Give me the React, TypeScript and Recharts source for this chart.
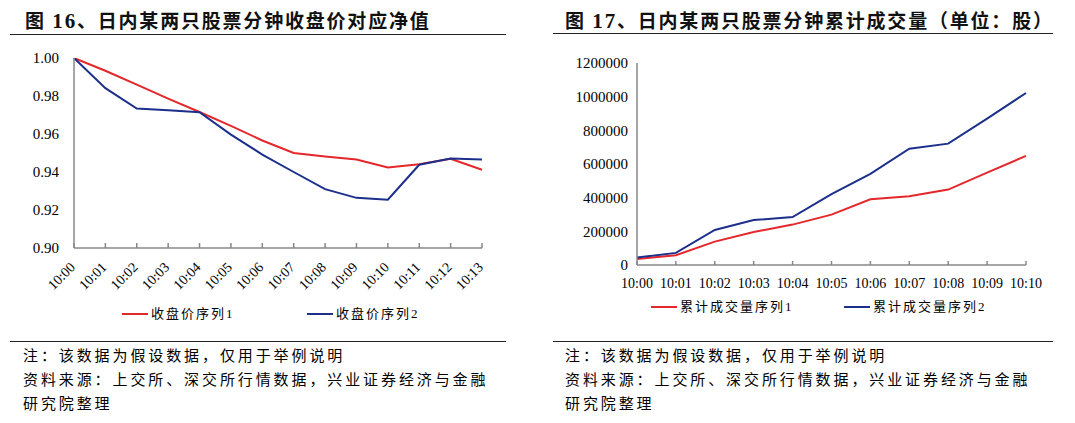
import React from 'react';
import { LineChart, Line, XAxis, YAxis } from 'recharts';

const priceTimes = ['10:00','10:01','10:02','10:03','10:04','10:05','10:06','10:07','10:08','10:09','10:10','10:11','10:12','10:13'];
const priceSeries1 = [1.0, 0.9933, 0.986, 0.9786, 0.9716, 0.9643, 0.9566, 0.950, 0.9482, 0.9466, 0.9424, 0.9441, 0.947, 0.9412];
const priceSeries2 = [1.0, 0.9841, 0.9734, 0.9725, 0.9715, 0.9597, 0.9492, 0.940, 0.931, 0.9264, 0.9254, 0.9438, 0.9471, 0.9466];
const priceTicks = [0.9, 0.92, 0.94, 0.96, 0.98, 1.0];

const volTimes = ['10:00','10:01','10:02','10:03','10:04','10:05','10:06','10:07','10:08','10:09','10:10'];
const volSeries1 = [35000, 58000, 139000, 196000, 240000, 299000, 390000, 409000, 448000, 549000, 648000];
const volSeries2 = [44000, 72000, 208000, 267000, 285000, 421000, 541000, 691000, 721000, 870000, 1022000];
const volTicks = [0, 200000, 400000, 600000, 800000, 1000000, 1200000];

const priceNames = ['收盘价序列1', '收盘价序列2'];
const volNames = ['累计成交量序列1', '累计成交量序列2'];
const titleLeft = { pre: '图 ', num: '16', post: '、日内某两只股票分钟收盘价对应净值' };
const titleRight = { pre: '图 ', num: '17', post: '、日内某两只股票分钟累计成交量（单位：股）' };
const noteLines = ['注：该数据为假设数据，仅用于举例说明', '资料来源：上交所、深交所行情数据，兴业证券经济与金融', '研究院整理'];

const RED = '#E4272B';
const BLUE = '#1C2F8A';
const AXIS = '#888888';
const FONT = "'Liberation Serif', 'Noto Sans CJK SC', serif";

const priceData = priceTimes.map((t, i) => ({ t, s1: priceSeries1[i], s2: priceSeries2[i] }));
const volData = volTimes.map((t, i) => ({ t, s1: volSeries1[i], s2: volSeries2[i] }));

const RotTick = (props: any) => {
  const { x, y, payload } = props;
  return (
    <g>
      <line x1={x} y1={y} x2={x} y2={y - 5} stroke={AXIS} strokeWidth={1.5} />
      <text x={x + 2} y={y + 20} transform={`rotate(-45, ${x + 2}, ${y + 20})`} textAnchor="end" fontSize={14} fontFamily={FONT} fill="#000">{payload.value}</text>
    </g>
  );
};

const FlatTick = (props: any) => {
  const { x, y, payload } = props;
  return (
    <g>
      <line x1={x} y1={y} x2={x} y2={y - 4} stroke={AXIS} strokeWidth={1.5} />
      <text x={x} y={y + 23} textAnchor="middle" fontSize={14} fontFamily={FONT} fill="#000">{payload.value}</text>
    </g>
  );
};

const Title = ({ t, left }: any) => (
  <div style={{ position: 'absolute', left, top: 8, fontFamily: FONT, fontWeight: 'bold', fontSize: 19, letterSpacing: 1.8, color: '#111', whiteSpace: 'nowrap', lineHeight: '26px' }}>
    {t.pre}<span style={{ fontFamily: "'Liberation Serif'", fontSize: 21 }}>{t.num}</span>{t.post}
  </div>
);

const Rule = ({ left, top, width }: any) => (
  <div style={{ position: 'absolute', left, top, width, height: 1.3, background: '#222' }} />
);

const LegendItem = ({ left, top, color, label }: any) => (
  <div style={{ position: 'absolute', left, top, display: 'flex', alignItems: 'center', whiteSpace: 'nowrap' }}>
    <div style={{ width: 26, height: 2, background: color }} />
    <span style={{ marginLeft: 3, fontFamily: FONT, fontSize: 13, letterSpacing: 2, color: '#000', lineHeight: '16px' }}>{label}</span>
  </div>
);

const Notes = ({ left }: any) => (
  <div style={{ position: 'absolute', left, top: 344 }}>
    {noteLines.map((l, i) => (
      <div key={i} style={{ fontFamily: FONT, fontSize: 15, letterSpacing: 2.9, lineHeight: '24px', color: '#000', whiteSpace: 'nowrap' }}>{l}</div>
    ))}
  </div>
);

export default function App() {
  return (
    <div style={{ position: 'absolute', left: 0, top: 0, width: 1075, height: 423, background: '#fff', overflow: 'hidden' }}>
      <Title t={titleLeft} left={25} />
      <Title t={titleRight} left={565} />
      <Rule left={10} top={34} width={496} />
      <Rule left={553} top={33} width={500} />

      <div style={{ position: 'absolute', left: 0, top: 0 }}>
        <LineChart width={540} height={300} data={priceData} margin={{ top: 58, right: 58, left: 24, bottom: 2 }}>
          <XAxis dataKey="t" interval={0} tickSize={0} tickMargin={0} tickLine={false} axisLine={{ stroke: AXIS, strokeWidth: 1.5 }} tick={<RotTick />} height={50} padding={{ left: 0, right: 0 }} />
          <YAxis domain={[0.9, 1.0]} ticks={priceTicks} width={50} tickSize={0} tickMargin={15} tickLine={false} axisLine={{ stroke: AXIS, strokeWidth: 1.5 }} tickFormatter={(v: number) => v.toFixed(2)} tick={{ fontSize: 15, fontFamily: FONT, fill: '#000' }} allowDataOverflow />
          <Line dataKey="s1" stroke={RED} strokeWidth={2} dot={false} isAnimationActive={false} />
          <Line dataKey="s2" stroke={BLUE} strokeWidth={2} dot={false} isAnimationActive={false} />
        </LineChart>
      </div>

      <div style={{ position: 'absolute', left: 540, top: 0 }}>
        <LineChart width={535} height={300} data={volData} margin={{ top: 63, right: 49, left: 27, bottom: 4 }}>
          <XAxis dataKey="t" interval={0} tickSize={0} tickMargin={0} tickLine={false} axisLine={{ stroke: AXIS, strokeWidth: 1.5 }} tick={<FlatTick />} height={31} padding={{ left: 0, right: 0 }} />
          <YAxis domain={[0, 1200000]} ticks={volTicks} width={70} tickSize={0} tickMargin={9} tickLine={false} axisLine={{ stroke: AXIS, strokeWidth: 1.5 }} tick={{ fontSize: 15, fontFamily: FONT, fill: '#000' }} />
          <Line dataKey="s1" stroke={RED} strokeWidth={2} dot={false} isAnimationActive={false} />
          <Line dataKey="s2" stroke={BLUE} strokeWidth={2} dot={false} isAnimationActive={false} />
        </LineChart>
      </div>

      <LegendItem left={122} top={306} color={RED} label={priceNames[0]} />
      <LegendItem left={307} top={306} color={BLUE} label={priceNames[1]} />
      <LegendItem left={651} top={299} color={RED} label={volNames[0]} />
      <LegendItem left={844} top={299} color={BLUE} label={volNames[1]} />

      <Rule left={10} top={341} width={496} />
      <Rule left={553} top={341} width={500} />
      <Notes left={23} />
      <Notes left={565} />
    </div>
  );
}
